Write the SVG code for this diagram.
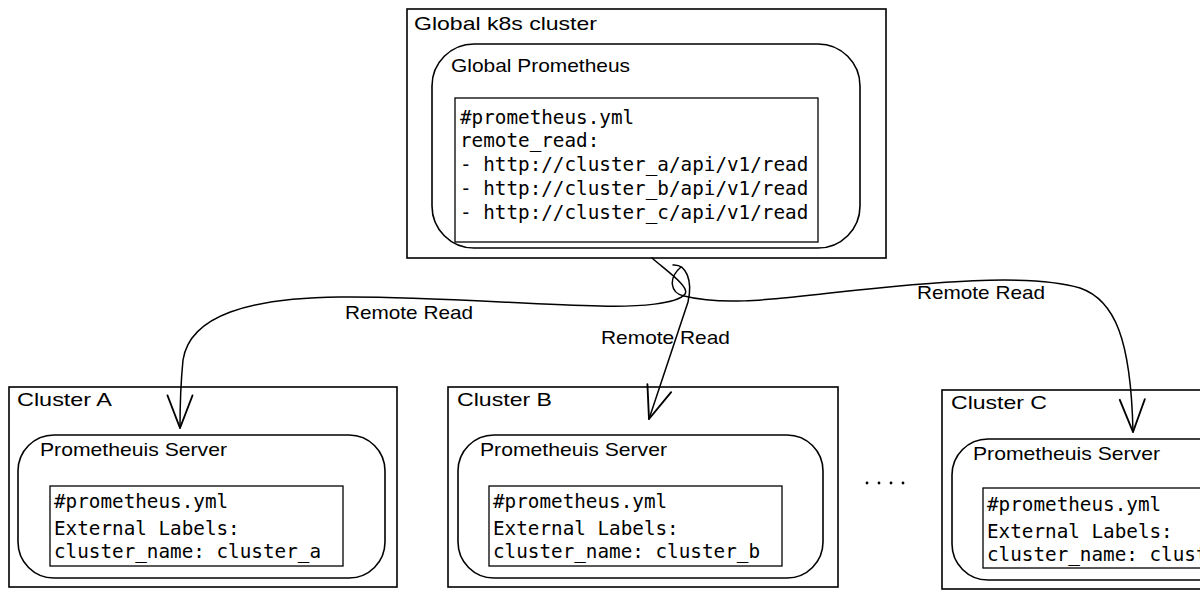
<svg xmlns="http://www.w3.org/2000/svg" width="1200" height="600" viewBox="0 0 1200 600">
  <style>
    .box { fill: none; stroke: #000; stroke-width: 1.6; }
    .rbox { fill: none; stroke: #000; stroke-width: 1.6; }
    .code { fill: none; stroke: #000; stroke-width: 1.3; }
    .hand { font-family: "Liberation Sans", "Open Sans", sans-serif; font-size: 19px; fill: #000; }
    .mono { font-family: "DejaVu Sans Mono", "Liberation Mono", monospace; font-size: 19.3px; fill: #000; }
    .conn { fill: none; stroke: #000; stroke-width: 1.5; stroke-linecap: round; }
  </style>
  <defs>
    <marker id="arrow" markerUnits="userSpaceOnUse" markerWidth="40" markerHeight="40" refX="0" refY="0" viewBox="-30 -15 32 30" orient="auto">
      <path d="M-26,-10 L0,0 L-26,10" fill="none" stroke="#000" stroke-width="1.5" stroke-linecap="round" stroke-linejoin="round"/>
    </marker>
  </defs>
  <rect x="0" y="0" width="1200" height="600" fill="#fff"/>

  <g id="global-cluster">
    <rect class="box" x="407" y="9" width="479" height="249"/>
    <text class="hand" x="414" y="30" textLength="183" lengthAdjust="spacingAndGlyphs">Global k8s cluster</text>
    <g id="global-prometheus">
      <rect class="rbox" x="432" y="44" width="428" height="204" rx="42" ry="42"/>
      <text class="hand" x="451" y="72" textLength="179" lengthAdjust="spacingAndGlyphs">Global Prometheus</text>
      <rect class="code" x="455" y="98" width="363" height="144"/>
      <text class="mono" x="460" y="124">#prometheus.yml</text>
      <text class="mono" x="460" y="147">remote_read:</text>
      <text class="mono" x="460" y="171">- http://cluster_a/api/v1/read</text>
      <text class="mono" x="460" y="195">- http://cluster_b/api/v1/read</text>
      <text class="mono" x="460" y="219">- http://cluster_c/api/v1/read</text>
    </g>
  </g>

  <g id="cluster-a">
    <rect class="box" x="9" y="387" width="388" height="200"/>
    <text class="hand" x="17" y="406" textLength="95" lengthAdjust="spacingAndGlyphs">Cluster A</text>
    <g id="prometheus-a">
      <rect class="rbox" x="18" y="435" width="367" height="143" rx="36" ry="36"/>
      <text class="hand" x="40" y="456" textLength="187" lengthAdjust="spacingAndGlyphs">Prometheuis Server</text>
      <rect class="code" x="50" y="486" width="293" height="80"/>
      <text class="mono" x="54" y="508">#prometheus.yml</text>
      <text class="mono" x="54" y="535">External Labels:</text>
      <text class="mono" x="54" y="558">cluster_name: cluster_a</text>
    </g>
  </g>

  <g id="cluster-b">
    <rect class="box" x="448" y="387" width="390" height="200"/>
    <text class="hand" x="457" y="406" textLength="95" lengthAdjust="spacingAndGlyphs">Cluster B</text>
    <g id="prometheus-b">
      <rect class="rbox" x="458" y="435" width="365" height="143" rx="36" ry="36"/>
      <text class="hand" x="480" y="456" textLength="187" lengthAdjust="spacingAndGlyphs">Prometheuis Server</text>
      <rect class="code" x="489" y="486" width="293" height="80"/>
      <text class="mono" x="493" y="508">#prometheus.yml</text>
      <text class="mono" x="493" y="535">External Labels:</text>
      <text class="mono" x="493" y="558">cluster_name: cluster_b</text>
    </g>
  </g>

  <g id="cluster-c">
    <rect class="box" x="942" y="390" width="290" height="199"/>
    <text class="hand" x="951" y="409" textLength="96" lengthAdjust="spacingAndGlyphs">Cluster C</text>
    <g id="prometheus-c">
      <rect class="rbox" x="952" y="439" width="290" height="141" rx="36" ry="36"/>
      <text class="hand" x="973" y="460" textLength="187" lengthAdjust="spacingAndGlyphs">Prometheuis Server</text>
      <rect class="code" x="983" y="488" width="260" height="80"/>
      <text class="mono" x="987" y="511">#prometheus.yml</text>
      <text class="mono" x="987" y="538">External Labels:</text>
      <text class="mono" x="987" y="561">cluster_name: cluster_c</text>
    </g>
  </g>

  <g id="ellipsis">
    <circle cx="867" cy="483" r="1.4" fill="#000"/>
    <circle cx="879" cy="483" r="1.4" fill="#000"/>
    <circle cx="891" cy="483" r="1.4" fill="#000"/>
    <circle cx="903" cy="483" r="1.4" fill="#000"/>
  </g>

  <g id="connectors">
    <path class="conn" marker-end="url(#arrow)" d="M652,258 C668,272 690,287 685,294 C677,304 640,307 600,306 C520,304 420,296 340,297 C250,298 190,315 183,360 C181,380 180,400 180,428"/>
    <path class="conn" marker-end="url(#arrow)" d="M673,265 C686,264 693,280 688,302 L649,419"/>
    <path class="conn" marker-end="url(#arrow)" d="M681,267 C668,278 670,293 684,296 C720,305 760,301 830,293 C930,282 1030,273 1080,288 C1115,300 1131,340 1133,432"/>
    <text class="hand" x="345" y="319" textLength="128" lengthAdjust="spacingAndGlyphs">Remote Read</text>
    <text class="hand" x="601" y="344" textLength="129" lengthAdjust="spacingAndGlyphs">Remote Read</text>
    <text class="hand" x="917" y="299" textLength="128" lengthAdjust="spacingAndGlyphs">Remote Read</text>
  </g>
</svg>
